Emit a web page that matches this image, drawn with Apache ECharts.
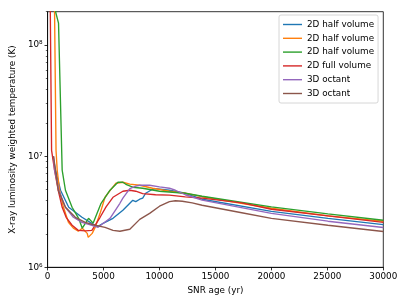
<!DOCTYPE html>
<html><head><meta charset="utf-8">
<script src="https://cdn.jsdelivr.net/npm/echarts@6/dist/echarts.min.js"></script>
<style>html,body{margin:0;padding:0;background:#fff}#c{width:407px;height:305px}</style>
</head><body><div id="c"></div>
<script>
// ---- data ----
const legendLabels = ['2D half volume','2D half volume','2D half volume','2D full volume','3D octant','3D octant'];
const xTicks = [0,5000,10000,15000,20000,25000,30000];
const yMajorTicks = [1e6,1e7,1e8];
const yMinorTicks = [2e6,3e6,4e6,5e6,6e6,7e6,8e6,9e6,2e7,3e7,4e7,5e7,6e7,7e7,8e7,9e7,2e8];

const blueAge  = [470,708,1151,1885,2478,3071,3806,4248,4514,4956,5841,6726,7346,7611,7877,8231,8496,8762,9381,9647,10886,12302,13806,20000,25046,30000];
const blueTemp = [1.0e7,7.48e6,4.94e6,3.47e6,3.13e6,2.82e6,2.54e6,2.39e6,2.34e6,2.49e6,2.76e6,3.26e6,3.77e6,4.01e6,3.9e6,4.1e6,4.19e6,4.64e6,5.04e6,5.1e6,4.94e6,4.64e6,4.1e6,3.19e6,2.76e6,2.42e6];

const orangeAge  = [560,620,752,858,1062,1416,1859,2301,2744,3098,3540,3629,3983,4248,4691,5133,5576,6107,6726,7346,8231,9381,10886,12302,13806,20000,25046,30000];
const orangeTemp = [3e8,2.0e8,1.13e7,7.48e6,4.94e6,3.47e6,2.54e6,2.25e6,2.11e6,2.25e6,2.02e6,1.86e6,2.02e6,2.29e6,3.06e6,4.27e6,4.9e6,5.71e6,5.83e6,5.6e6,5.48e6,5.15e6,4.84e6,4.64e6,4.32e6,3.4e6,2.9e6,2.6e6];

const greenAge  = [600,708,974,1300,1593,2186,2770,3098,3655,4071,4779,5576,6284,6461,6726,6992,7169,7611,8496,10001,12302,13806,20000,25046,30000];
const greenTemp = [2.6e8,2.0e8,1.58e8,7.5e6,4.94e6,3.47e6,2.76e6,2.25e6,2.76e6,2.5e6,3.77e6,4.94e6,5.83e6,5.95e6,5.83e6,5.59e6,5.37e6,5.26e6,5.15e6,4.84e6,4.64e6,4.36e6,3.5e6,3.03e6,2.65e6];

const redAge  = [200,239,354,620,947,1301,1655,2186,2744,3363,3956,4691,5222,5841,6726,7346,7877,8496,9647,10886,12302,13806,17346,20000,25046,30000];
const redTemp = [3e8,2.0e8,1.13e7,7.48e6,4.94e6,3.47e6,2.82e6,2.39e6,2.15e6,2.13e6,2.15e6,2.82e6,3.5e6,4.27e6,4.84e6,4.94e6,4.84e6,4.6e6,4.5e6,4.46e6,4.3e6,4.19e6,3.8e6,3.33e6,2.9e6,2.54e6];

const purpleAge  = [530,620,1000,1593,2301,3071,3956,4514,5576,6461,6726,7346,7877,8231,9116,10001,10886,11417,12302,13806,20000,25046,30000];
const purpleTemp = [1.0e7,7.48e6,4.94e6,3.47e6,2.82e6,2.54e6,2.39e6,2.29e6,2.76e6,3.77e6,4.19e6,5.1e6,5.37e6,5.48e6,5.48e6,5.3e6,5.15e6,4.94e6,4.5e6,4.02e6,3.06e6,2.6e6,2.28e6];

const brownAge  = [531,700,947,1593,2478,3363,4248,5133,5841,6461,7346,8231,9116,10001,10886,11417,12036,12921,13806,17346,20000,25046,30000];
const brownTemp = [1.0e7,7.5e6,4.94e6,3.47e6,2.82e6,2.54e6,2.39e6,2.29e6,2.15e6,2.11e6,2.2e6,2.7e6,3.06e6,3.55e6,3.9e6,3.97e6,3.93e6,3.8e6,3.62e6,3.1e6,2.76e6,2.39e6,2.1e6];

// ---- styles ----
const colors = ['#1f77b4','#ff7f0e','#2ca02c','#d62728','#9467bd','#8c564b'];
const ages = [blueAge, orangeAge, greenAge, redAge, purpleAge, brownAge];
const temps = [blueTemp, orangeTemp, greenTemp, redTemp, purpleTemp, brownTemp];
const FONT = 'DejaVu Sans';
const FS = 8.8;
const sup = {6:'\u2076',7:'\u2077',8:'\u2078'};
const LINE_ICON = 'path://M0 0H19V1.4H0Z';

const series = legendLabels.map((lab, i) => ({
  name: lab + '#' + i,
  type: 'line',
  symbol: 'none',
  smooth: false,
  clip: true,
  xAxisIndex: 0, yAxisIndex: 0,
  color: colors[i],
  lineStyle: {width: 1.35, color: colors[i]},
  data: ages[i].map((a, k) => [a, temps[i][k]])
}));

const chart = echarts.init(document.getElementById('c'), null, {renderer: 'canvas'});
chart.setOption({
  animation: false,
  backgroundColor: '#fff',
  textStyle: {fontFamily: FONT, color: '#000'},
  grid: {left: 44, right: 23.7, top: 11.7, bottom: 37.7, show: true, borderColor: '#000', borderWidth: 0.8, backgroundColor: 'transparent'},
  legend: {
    left: 279, top: 15, orient: 'vertical',
    padding: [5, 4, 5, 4], itemGap: 4.8, itemWidth: 19, itemHeight: 8,
    backgroundColor: 'rgba(255,255,255,0.8)', borderColor: '#cccccc', borderWidth: 0.8, borderRadius: 2,
    textStyle: {fontFamily: FONT, fontSize: FS, color: '#000'},
    formatter: n => n.split('#')[0],
    data: series.map((s, i) => ({name: s.name, icon: LINE_ICON, itemStyle: {color: colors[i]}}))
  },
  xAxis: {
    type: 'value', min: 0, max: 30000, interval: 5000,
    name: 'SNR age (yr)', nameLocation: 'middle', nameGap: 17,
    nameTextStyle: {fontFamily: FONT, fontSize: FS, color: '#000'},
    axisLine: {show: true, lineStyle: {color: '#000', width: 0.8}},
    axisTick: {show: true, length: 3.1, lineStyle: {color: '#000', width: 0.8}},
    axisLabel: {show: true, margin: 5, fontFamily: FONT, fontSize: FS, color: '#000', customValues: xTicks,
      formatter: v => String(v)},
    splitLine: {show: false}
  },
  yAxis: [{
    type: 'log', logBase: 10, min: 1e6, max: 2e8,
    name: 'X-ray luminosity weighted temperature (K)', nameLocation: 'middle', nameGap: 26,
    nameTextStyle: {fontFamily: FONT, fontSize: FS, color: '#000'},
    axisLine: {show: true, lineStyle: {color: '#000', width: 0.8}},
    axisTick: {show: true, length: 3.1, lineStyle: {color: '#000', width: 0.8}, customValues: yMajorTicks},
    axisLabel: {show: true, margin: 5, fontFamily: FONT, fontSize: FS, color: '#000', customValues: yMajorTicks,
      formatter: v => '10' + sup[Math.round(Math.log10(v))]},
    splitLine: {show: false}, minorTick: {show: false}
  }, {
    type: 'log', logBase: 10, min: 1e6, max: 2e8, position: 'left',
    axisLine: {show: false},
    axisTick: {show: true, length: 1.8, lineStyle: {color: '#000', width: 0.6}, customValues: yMinorTicks},
    axisLabel: {show: false},
    splitLine: {show: false}
  }],
  series: series
});
</script></body></html>
